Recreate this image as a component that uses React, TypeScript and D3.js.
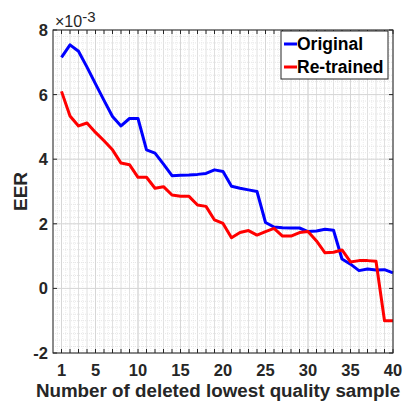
import { useEffect, useRef } from "react"
import * as d3 from "d3"

const samples = d3.range(1, 41)
const original = [
  7.15, 7.54, 7.34, 6.85, 6.33, 5.82, 5.32, 5.03, 5.26, 5.26,
  4.29, 4.19, 3.85, 3.49, 3.5, 3.51, 3.53, 3.56, 3.67, 3.62,
  3.16, 3.1, 3.05, 3.0, 2.04, 1.9, 1.88, 1.87, 1.87, 1.76,
  1.78, 1.83, 1.8, 0.91, 0.75, 0.55, 0.6, 0.57, 0.58, 0.48,
]
const retrained = [
  6.1, 5.34, 5.03, 5.12, 4.83, 4.57, 4.29, 3.88, 3.83, 3.44,
  3.44, 3.1, 3.15, 2.89, 2.85, 2.85, 2.58, 2.54, 2.12, 2.01,
  1.57, 1.73, 1.79, 1.65, 1.76, 1.86, 1.62, 1.62, 1.73, 1.76,
  1.47, 1.1, 1.12, 1.19, 0.82, 0.86, 0.86, 0.84, -1.0, -1.0,
]
const xTicks = [1, 5, 10, 15, 20, 25, 30, 35, 40]
const yTicks = [-2, 0, 2, 4, 6, 8]
const seriesNames = ["Original", "Re-trained"]
const seriesColors = ["#0000ff", "#ff0000"]

export default function App() {
  const svgRef = useRef<SVGSVGElement>(null)

  useEffect(() => {
    if (!svgRef.current) return
    const svg = d3.select(svgRef.current)
    svg.selectAll("*").remove()

    const margin = { top: 30, right: 18, bottom: 55, left: 53 }
    const width = 411 - margin.left - margin.right
    const height = 408 - margin.top - margin.bottom
    const axisColor = "#262626"
    const font = "'Liberation Sans', Arial, sans-serif"

    const x = d3.scaleLinear().domain([0, 40]).range([0, width])
    const y = d3.scaleLinear().domain([-2, 8]).range([height, 0])

    const g = svg.append("g").attr("transform", `translate(${margin.left},${margin.top})`)

    // minor grid (dotted)
    g.append("g")
      .selectAll("line")
      .data(d3.range(0, 40.01, 0.5))
      .enter()
      .append("line")
      .attr("x1", (d) => x(d))
      .attr("x2", (d) => x(d))
      .attr("y1", 0)
      .attr("y2", height)
      .attr("stroke", (d) => (Number.isInteger(d) ? "#e0e0e0" : "#ececec"))
      .attr("stroke-width", 1)
      .attr("stroke-dasharray", (d) => (Number.isInteger(d) ? null : "1,1"))
    g.append("g")
      .selectAll("line")
      .data(d3.range(-2, 8.001, 0.2))
      .enter()
      .append("line")
      .attr("x1", 0)
      .attr("x2", width)
      .attr("y1", (d) => y(d))
      .attr("y2", (d) => y(d))
      .attr("stroke", "#e6e6e6")
      .attr("stroke-width", 1)
      .attr("stroke-dasharray", "1,1")

    // major grid
    g.append("g")
      .selectAll("line")
      .data(xTicks)
      .enter()
      .append("line")
      .attr("x1", (d) => x(d))
      .attr("x2", (d) => x(d))
      .attr("y1", 0)
      .attr("y2", height)
      .attr("stroke", "#d6d6d6")
    g.append("g")
      .selectAll("line")
      .data(yTicks)
      .enter()
      .append("line")
      .attr("x1", 0)
      .attr("x2", width)
      .attr("y1", (d) => y(d))
      .attr("y2", (d) => y(d))
      .attr("stroke", "#d6d6d6")

    // lines
    const line = d3
      .line<number>()
      .x((_, i) => x(samples[i]))
      .y((d) => y(d))
    ;[original, retrained].forEach((s, i) => {
      g.append("path")
        .datum(s)
        .attr("fill", "none")
        .attr("stroke", seriesColors[i])
        .attr("stroke-width", 3)
        .attr("stroke-linejoin", "round")
        .attr("d", line)
    })

    // axes box
    g.append("rect")
      .attr("width", width)
      .attr("height", height)
      .attr("fill", "none")
      .attr("stroke", axisColor)
      .attr("stroke-width", 1)

    // x ticks (every integer, top and bottom, inward)
    const intTicks = d3.range(1, 41)
    g.append("g")
      .selectAll("line")
      .data(intTicks)
      .enter()
      .append("line")
      .attr("x1", (d) => x(d))
      .attr("x2", (d) => x(d))
      .attr("y1", height)
      .attr("y2", height - 4)
      .attr("stroke", axisColor)
    g.append("g")
      .selectAll("line")
      .data(intTicks)
      .enter()
      .append("line")
      .attr("x1", (d) => x(d))
      .attr("x2", (d) => x(d))
      .attr("y1", 0)
      .attr("y2", 4)
      .attr("stroke", axisColor)
    // y ticks left and right
    g.append("g")
      .selectAll("line")
      .data(yTicks)
      .enter()
      .append("line")
      .attr("x1", 0)
      .attr("x2", 4)
      .attr("y1", (d) => y(d))
      .attr("y2", (d) => y(d))
      .attr("stroke", axisColor)
    g.append("g")
      .selectAll("line")
      .data(yTicks)
      .enter()
      .append("line")
      .attr("x1", width)
      .attr("x2", width - 4)
      .attr("y1", (d) => y(d))
      .attr("y2", (d) => y(d))
      .attr("stroke", axisColor)

    // tick labels
    g.append("g")
      .selectAll("text")
      .data(xTicks)
      .enter()
      .append("text")
      .attr("x", (d) => x(d))
      .attr("y", height + 23)
      .attr("text-anchor", "middle")
      .attr("font-family", font)
      .attr("font-weight", "bold")
      .attr("font-size", 16.5)
      .attr("fill", axisColor)
      .text((d) => d)
    g.append("g")
      .selectAll("text")
      .data(yTicks)
      .enter()
      .append("text")
      .attr("x", -5)
      .attr("y", (d) => y(d))
      .attr("dy", "0.36em")
      .attr("text-anchor", "end")
      .attr("font-family", font)
      .attr("font-weight", "bold")
      .attr("font-size", 16.5)
      .attr("fill", axisColor)
      .text((d) => d)

    // exponent label
    const exp = g.append("text")
      .attr("x", 2)
      .attr("y", -3.5)
      .attr("font-family", font)
      .attr("font-size", 16)
      .attr("fill", axisColor)
    exp.append("tspan").text("×10")
    exp.append("tspan").attr("font-size", 15).attr("dy", -5).text("-3")

    // axis labels
    svg.append("text")
      .attr("transform", `translate(20,${margin.top + height / 2}) rotate(-90)`)
      .attr("text-anchor", "middle")
      .attr("dy", "0.36em")
      .attr("font-family", font)
      .attr("font-weight", "bold")
      .attr("font-size", 19)
      .attr("fill", axisColor)
      .text("EER")
    svg.append("text")
      .attr("x", 218)
      .attr("y", 397)
      .attr("text-anchor", "middle")
      .attr("font-family", font)
      .attr("font-weight", "bold")
      .attr("font-size", 18.8)
      .attr("fill", axisColor)
      .text("Number of deleted lowest quality sample")

    // legend
    const lg = svg.append("g").attr("transform", "translate(281,31)")
    lg.append("rect")
      .attr("width", 107)
      .attr("height", 48)
      .attr("fill", "white")
      .attr("stroke", axisColor)
      .attr("stroke-width", 1)
    seriesNames.forEach((name, i) => {
      const yy = 13 + i * 23
      lg.append("line")
        .attr("x1", 3)
        .attr("x2", 16)
        .attr("y1", yy)
        .attr("y2", yy)
        .attr("stroke", seriesColors[i])
        .attr("stroke-width", 3)
      lg.append("text")
        .attr("x", 16)
        .attr("y", yy)
        .attr("dy", "0.36em")
        .attr("font-family", font)
        .attr("font-weight", "bold")
        .attr("font-size", 17.5)
        .attr("fill", "#000")
        .text(name)
    })
  }, [])

  return (
    <svg
      ref={svgRef}
      width={411}
      height={408}
      style={{ position: "fixed", left: 0, top: 0, background: "white" }}
    />
  )
}
